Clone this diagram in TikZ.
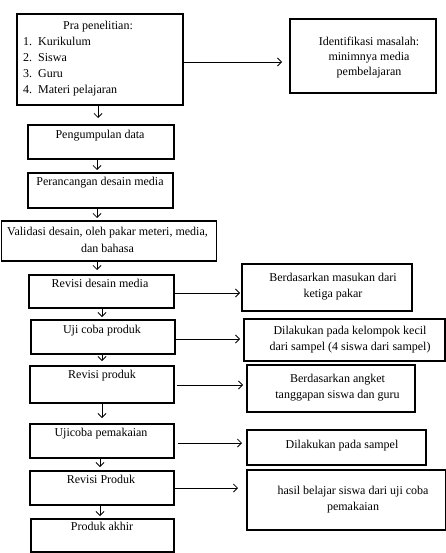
\documentclass[tikz,border=0pt]{standalone}
\usepackage{fontspec}
\setmainfont{Liberation Serif}
\usetikzlibrary{arrows.meta}
\begin{document}
\begin{tikzpicture}[x=1pt,y=-1pt,
  box/.style={draw, line width=1.6pt, inner sep=0pt, anchor=north west},
  txt/.style={inner sep=0pt, align=center, font=\fontsize{12}{16.5}\selectfont},
  one/.style={txt, text height=8pt, text depth=2.5pt},
  arr/.style={line width=0.8pt, -{Straight Barb[length=4pt,width=8pt]}}]
\useasboundingbox (0,0) rectangle (446,553);
% boxes
\node[box, minimum width=166pt, minimum height=91pt] (b1) at (16,13) {};
\node[box, minimum width=146pt, minimum height=74pt] (id) at (289,18) {};
\node[box, minimum width=146pt, minimum height=34pt] (b2) at (27,124) {};
\node[box, minimum width=145pt, minimum height=35pt] (b3) at (27,172) {};
\node[box, minimum width=215pt, minimum height=40pt] (b4) at (0.8,220) {};
\node[box, minimum width=145pt, minimum height=33pt] (b5) at (28,274) {};
\node[box, minimum width=170pt, minimum height=47pt] (r5) at (241,263) {};
\node[box, minimum width=144pt, minimum height=34pt] (b6) at (30,319) {};
\node[box, minimum width=201pt, minimum height=42pt] (r6) at (243,318) {};
\node[box, minimum width=144pt, minimum height=37pt] (b7) at (29,365) {};
\node[box, minimum width=168pt, minimum height=47pt] (r7) at (246,364) {};
\node[box, minimum width=144pt, minimum height=34pt] (b8) at (29,423) {};
\node[box, minimum width=179pt, minimum height=35pt] (r8) at (246,429) {};
\node[box, minimum width=144pt, minimum height=34pt] (b9) at (29,470) {};
\node[box, minimum width=198.5pt, minimum height=60pt] (r9) at (246,469) {};
\node[box, minimum width=143pt, minimum height=33.2pt] (b10) at (30,518) {};
% texts
\node[one] (t1) at (98,27) {Pra penelitian:};
\node[txt, align=left, anchor=west, font=\fontsize{12}{16}\selectfont] (t1l) at (23,67)
  {1.\enspace Kurikulum\\2.\enspace Siswa\\3.\enspace Guru\\4.\enspace Materi pelajaran};
\node[txt, font=\fontsize{12}{15}\selectfont] (tid) at (369,58) {Identifikasi masalah:\\minimnya media\\pembelajaran};
\node[one] (t2) at (100,136) {Pengumpulan data};
\node[one] (t3) at (100,183) {Perancangan desain media};
\node[txt] (t4) at (107.5,240) {Validasi desain, oleh pakar meteri, media,\\dan bahasa};
\node[one] (t5) at (100,285) {Revisi desain media};
\node[txt] (tr5) at (333,286.5) {Berdasarkan masukan dari\\ketiga pakar};
\node[one] (t6) at (102,331) {Uji coba produk};
\node[txt] (tr6) at (350,339.5) {Dilakukan pada kelompok kecil\\dari sampel (4 siswa dari sampel)};
\node[one] (t7) at (102,376) {Revisi produk};
\node[txt] (tr7) at (337.5,387.5) {Berdasarkan angket\\tanggapan siswa dan guru};
\node[one] (t8) at (101,434) {Ujicoba pemakaian};
\node[one] (tr8) at (342,446) {Dilakukan pada sampel};
\node[one] (t9) at (101,481) {Revisi Produk};
\node[txt] (tr9) at (353,499.5) {hasil belajar siswa dari uji coba\\pemakaian};
\node[one] (t10) at (102,528) {Produk akhir};
% down arrows
\draw[arr, shorten >=6pt] (b1.south -| 98,0) -- (b2.north -| 98,0);
\draw[arr, shorten >=2pt] (b2.south -| 97,0) -- (b3.north -| 97,0);
\draw[arr, shorten >=2pt] (b3.south -| 97,0) -- (b4.north -| 97,0);
\draw[arr, shorten >=4pt] (b4.south -| 97,0) -- (b5.north -| 97,0);
\draw[arr, shorten >=2pt] (b5.south -| 102,0) -- (b6.north -| 102,0);
\draw[arr, shorten >=4pt] (b6.south -| 102,0) -- (b7.north -| 102,0);
\draw[arr, shorten >=5pt] (b7.south -| 102,0) -- (b8.north -| 102,0);
\draw[arr, shorten >=3pt] (b8.south -| 100,0) -- (b9.north -| 100,0);
\draw[arr, shorten >=2pt] (b9.south -| 100,0) -- (b10.north -| 100,0);
% right arrows
\draw[arr, shorten >=7pt] (b1.east |- 0,62) -- (id.west |- 0,62);
\draw[arr, shorten >=1pt] (b5.east |- 0,293) -- (r5.west |- 0,293);
\draw[arr, shorten >=3pt] (b6.east |- 0,339) -- (r6.west |- 0,339);
\draw[arr, shorten <=2pt, shorten >=3pt] (b7.east |- 0,385) -- (r7.west |- 0,385);
\draw[arr, shorten <=3pt, shorten >=4pt] (b8.east |- 0,443) -- (r8.west |- 0,443);
\draw[arr, shorten >=8pt] (b9.east |- 0,488) -- (r9.west |- 0,488);
\end{tikzpicture}
\end{document}
